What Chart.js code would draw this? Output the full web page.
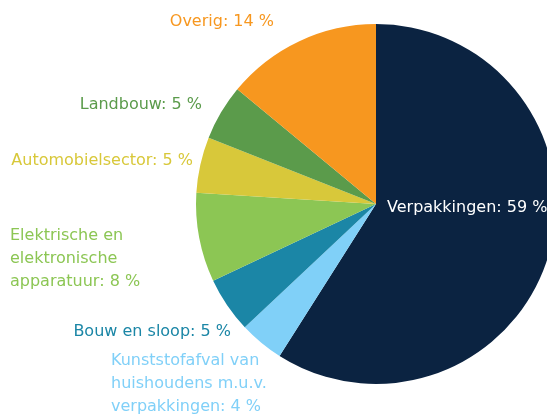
<!DOCTYPE html>
<html>
<head>
<meta charset="utf-8">
<script src="https://cdn.jsdelivr.net/npm/chart.js@4"></script>
<style>
  html, body { margin: 0; padding: 0; background: #fff; overflow: hidden; }
  #wrap { position: absolute; left: 0; top: 0; width: 752px; height: 417px; }
</style>
</head>
<body>
<div id="wrap"><canvas id="pie" width="752" height="417"></canvas></div>
<script>
// sectors, clockwise from 12 o'clock
const sectors = ['Verpakkingen', 'Kunststofafval van huishoudens m.u.v. verpakkingen',
  'Bouw en sloop', 'Elektrische en elektronische apparatuur', 'Automobielsector',
  'Landbouw', 'Overig'];
const shares = [59, 4, 5, 8, 5, 5, 14];
const labelLines = [
  ['Verpakkingen: 59 %'],
  ['Kunststofafval van', 'huishoudens m.u.v.', 'verpakkingen: 4 %'],
  ['Bouw en sloop: 5 %'],
  ['Elektrische en', 'elektronische', 'apparatuur: 8 %'],
  ['Automobielsector: 5 %'],
  ['Landbouw: 5 %'],
  ['Overig: 14 %']
];
const colors = ['#0b2341', '#80d0f8', '#1b86a6', '#8cc654', '#d8c83a', '#5b9b4b', '#f7971f'];
const textColors = ['#ffffff', '#80d0f8', '#1b86a6', '#8cc654', '#d8c83a', '#5b9b4b', '#f7971f'];

// where each label sits, relative to the pie centre (x, y of first line, align)
const labelSpots = [
  { dx: 11, dy: 4, align: 'left' },
  { dx: -265, dy: 157, align: 'left' },
  { dx: -145, dy: 128, align: 'right' },
  { dx: -366, dy: 32, align: 'left' },
  { dx: -183, dy: -43, align: 'right' },
  { dx: -174, dy: -99, align: 'right' },
  { dx: -102, dy: -182, align: 'right' }
];

const sliceLabels = {
  id: 'sliceLabels',
  afterDatasetsDraw(chart) {
    const { ctx } = chart;
    const arcs = chart.getDatasetMeta(0).data;
    const cx = arcs[0].x, cy = arcs[0].y;
    ctx.save();
    ctx.font = '16px "DejaVu Sans"';
    ctx.textBaseline = 'middle';
    labelLines.forEach((lines, i) => {
      const s = labelSpots[i];
      ctx.textAlign = s.align;
      ctx.fillStyle = textColors[i];
      lines.forEach((ln, k) => {
        ctx.fillText(ln, cx + s.dx, cy + s.dy + k * 23);
      });
    });
    ctx.restore();
  }
};

new Chart(document.getElementById('pie'), {
  type: 'pie',
  data: {
    labels: sectors,
    datasets: [{
      data: shares,
      backgroundColor: colors,
      borderWidth: 0
    }]
  },
  options: {
    responsive: false,
    animation: false,
    devicePixelRatio: 1,
    layout: { padding: { top: 24, bottom: 33 } },
    plugins: {
      legend: { display: false },
      tooltip: { enabled: false }
    }
  },
  plugins: [sliceLabels]
});
</script>
</body>
</html>
